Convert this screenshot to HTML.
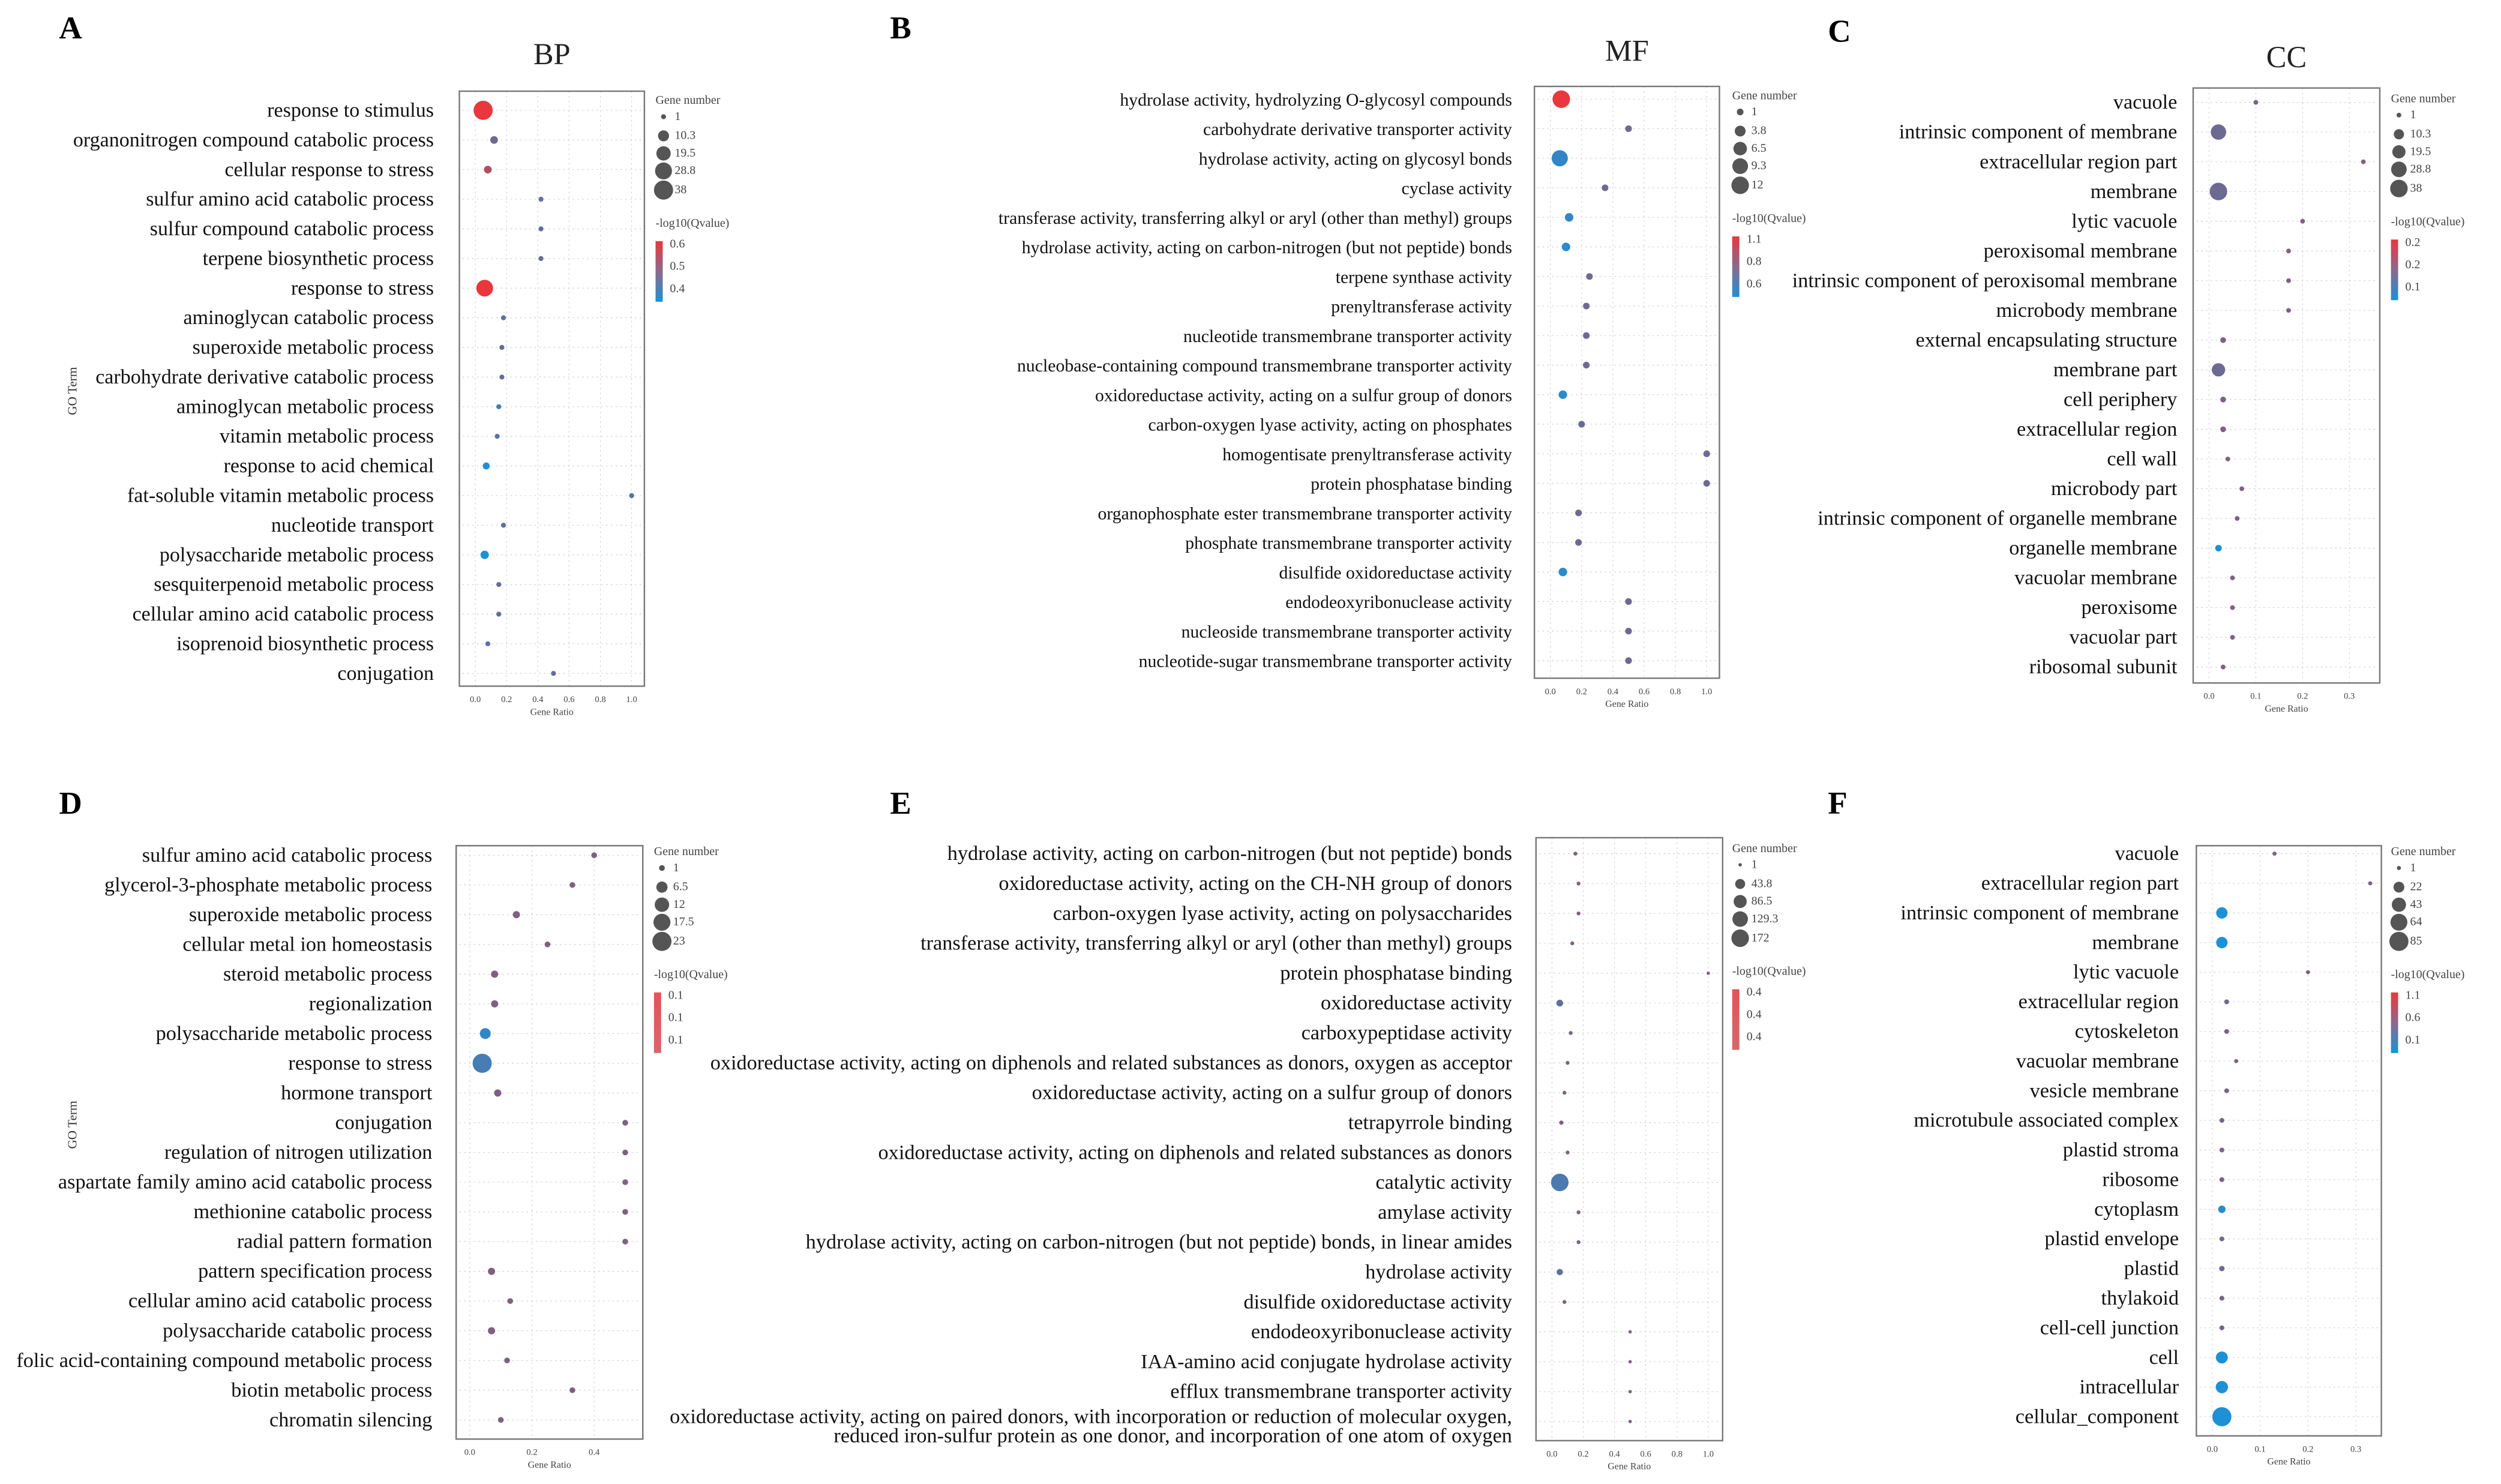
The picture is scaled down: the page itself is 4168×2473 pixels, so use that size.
<!DOCTYPE html>
<html><head><meta charset="utf-8"><style>
html,body{margin:0;padding:0;background:#fff;}
svg{display:block;font-family:"Liberation Serif",serif;}
</style></head><body>
<svg id="fig" xmlns="http://www.w3.org/2000/svg" width="4168" height="2473" viewBox="0 0 1568 930">
<defs>
<linearGradient id="cbar" x1="0" y1="0" x2="0" y2="1">
<stop offset="0" stop-color="#e8383d"/><stop offset="0.5" stop-color="#8a6a8c"/><stop offset="1" stop-color="#1e90d6"/></linearGradient>
<linearGradient id="cbarRed" x1="0" y1="0" x2="0" y2="1">
<stop offset="0" stop-color="#e0555a"/><stop offset="1" stop-color="#d9666b"/></linearGradient>
</defs>
<g id="root"></g>
</svg>
<script>
// ---- Panel A (BP) ----
const aTerms=["response to stimulus","organonitrogen compound catabolic process","cellular response to stress","sulfur amino acid catabolic process","sulfur compound catabolic process","terpene biosynthetic process","response to stress","aminoglycan catabolic process","superoxide metabolic process","carbohydrate derivative catabolic process","aminoglycan metabolic process","vitamin metabolic process","response to acid chemical","fat-soluble vitamin metabolic process","nucleotide transport","polysaccharide metabolic process","sesquiterpenoid metabolic process","cellular amino acid catabolic process","isoprenoid biosynthetic process","conjugation"];
const aRatio=[0.05,0.12,0.08,0.42,0.42,0.42,0.06,0.18,0.17,0.17,0.15,0.14,0.07,1.0,0.18,0.06,0.15,0.15,0.08,0.5];
const aCount=[38,4,4,1,1,1,28,1,1,1,1,1,3,1,1,5,1,1,1,1];
const aQ=[0.6,0.48,0.55,0.47,0.47,0.47,0.6,0.47,0.47,0.47,0.44,0.46,0.4,0.47,0.47,0.4,0.47,0.47,0.46,0.47];
const aTicks=["0.0","0.2","0.4","0.6","0.8","1.0"];
const aSizeLeg=["1","10.3","19.5","28.8","38"];
const aColLeg=["0.6","0.5","0.4"];
// ---- Panel B (MF) ----
const bTerms=["hydrolase activity, hydrolyzing O-glycosyl compounds","carbohydrate derivative transporter activity","hydrolase activity, acting on glycosyl bonds","cyclase activity","transferase activity, transferring alkyl or aryl (other than methyl) groups","hydrolase activity, acting on carbon-nitrogen (but not peptide) bonds","terpene synthase activity","prenyltransferase activity","nucleotide transmembrane transporter activity","nucleobase-containing compound transmembrane transporter activity","oxidoreductase activity, acting on a sulfur group of donors","carbon-oxygen lyase activity, acting on phosphates","homogentisate prenyltransferase activity","protein phosphatase binding","organophosphate ester transmembrane transporter activity","phosphate transmembrane transporter activity","disulfide oxidoreductase activity","endodeoxyribonuclease activity","nucleoside transmembrane transporter activity","nucleotide-sugar transmembrane transporter activity"];
const bRatio=[0.07,0.5,0.06,0.35,0.12,0.1,0.25,0.23,0.23,0.23,0.08,0.2,1.0,1.0,0.18,0.18,0.08,0.5,0.5,0.5];
const bCount=[12,1,10,1,2,2,1,1,1,1,2,1,1,1,1,1,2,1,1,1];
const bQ=[1.1,0.8,0.65,0.8,0.65,0.63,0.8,0.8,0.8,0.8,0.63,0.8,0.8,0.8,0.8,0.8,0.63,0.8,0.8,0.8];
const bTicks=["0.0","0.2","0.4","0.6","0.8","1.0"];
const bSizeLeg=["1","3.8","6.5","9.3","12"];
const bColLeg=["1.1","0.8","0.6"];
// ---- Panel C (CC) ----
const cTerms=["vacuole","intrinsic component of membrane","extracellular region part","membrane","lytic vacuole","peroxisomal membrane","intrinsic component of peroxisomal membrane","microbody membrane","external encapsulating structure","membrane part","cell periphery","extracellular region","cell wall","microbody part","intrinsic component of organelle membrane","organelle membrane","vacuolar membrane","peroxisome","vacuolar part","ribosomal subunit"];
const cRatio=[0.1,0.02,0.33,0.02,0.2,0.17,0.17,0.17,0.03,0.02,0.03,0.03,0.04,0.07,0.06,0.02,0.05,0.05,0.05,0.03];
const cCount=[1,28,1,38,1,1,1,1,2,20,2,2,1,1,1,3,1,1,1,1];
const cQ=[0.15,0.14,0.15,0.14,0.15,0.15,0.15,0.15,0.15,0.14,0.15,0.15,0.15,0.15,0.15,0.1,0.15,0.15,0.15,0.15];
const cTicks=["0.0","0.1","0.2","0.3"];
const cSizeLeg=["1","10.3","19.5","28.8","38"];
const cColLeg=["0.2","0.2","0.1"];
// ---- Panel D (BP) ----
const dTerms=["sulfur amino acid catabolic process","glycerol-3-phosphate metabolic process","superoxide metabolic process","cellular metal ion homeostasis","steroid metabolic process","regionalization","polysaccharide metabolic process","response to stress","hormone transport","conjugation","regulation of nitrogen utilization","aspartate family amino acid catabolic process","methionine catabolic process","radial pattern formation","pattern specification process","cellular amino acid catabolic process","polysaccharide catabolic process","folic acid-containing compound metabolic process","biotin metabolic process","chromatin silencing"];
const dRatio=[0.4,0.33,0.15,0.25,0.08,0.08,0.05,0.04,0.09,0.5,0.5,0.5,0.5,0.5,0.07,0.13,0.07,0.12,0.33,0.1];
const dCount=[1,1,2,1,2,2,6,23,2,1,1,1,1,1,2,1,2,1,1,1];
const dQ=[0.1,0.1,0.1,0.1,0.1,0.1,0.06,0.07,0.1,0.1,0.1,0.1,0.1,0.1,0.1,0.1,0.1,0.1,0.1,0.1];
const dTicks=["0.0","0.2","0.4"];
const dSizeLeg=["1","6.5","12","17.5","23"];
const dColLeg=["0.1","0.1","0.1"];
// ---- Panel E (MF) ----
const eTerms=["hydrolase activity, acting on carbon-nitrogen (but not peptide) bonds","oxidoreductase activity, acting on the CH-NH group of donors","carbon-oxygen lyase activity, acting on polysaccharides","transferase activity, transferring alkyl or aryl (other than methyl) groups","protein phosphatase binding","oxidoreductase activity","carboxypeptidase activity","oxidoreductase activity, acting on diphenols and related substances as donors, oxygen as acceptor","oxidoreductase activity, acting on a sulfur group of donors","tetrapyrrole binding","oxidoreductase activity, acting on diphenols and related substances as donors","catalytic activity","amylase activity","hydrolase activity, acting on carbon-nitrogen (but not peptide) bonds, in linear amides","hydrolase activity","disulfide oxidoreductase activity","endodeoxyribonuclease activity","IAA-amino acid conjugate hydrolase activity","efflux transmembrane transporter activity","oxidoreductase activity, acting on paired donors, with incorporation or reduction of molecular oxygen,|reduced iron-sulfur protein as one donor, and incorporation of one atom of oxygen"];
const eRatio=[0.15,0.17,0.17,0.13,1.0,0.05,0.12,0.1,0.08,0.06,0.1,0.05,0.17,0.17,0.05,0.08,0.5,0.5,0.5,0.5];
const eCount=[2,2,2,2,1,15,2,2,2,3,2,172,2,2,12,2,1,1,1,1];
const eQ=[0.4,0.4,0.4,0.4,0.4,0.35,0.4,0.4,0.4,0.4,0.4,0.32,0.4,0.4,0.35,0.4,0.4,0.4,0.4,0.4];
const eTicks=["0.0","0.2","0.4","0.6","0.8","1.0"];
const eSizeLeg=["1","43.8","86.5","129.3","172"];
const eColLeg=["0.4","0.4","0.4"];
// ---- Panel F (CC) ----
const fTerms=["vacuole","extracellular region part","intrinsic component of membrane","membrane","lytic vacuole","extracellular region","cytoskeleton","vacuolar membrane","vesicle membrane","microtubule associated complex","plastid stroma","ribosome","cytoplasm","plastid envelope","plastid","thylakoid","cell-cell junction","cell","intracellular","cellular_component"];
const fRatio=[0.13,0.33,0.02,0.02,0.2,0.03,0.03,0.05,0.03,0.02,0.02,0.02,0.02,0.02,0.02,0.02,0.02,0.02,0.02,0.02];
const fCount=[1,1,25,25,1,2,2,1,2,2,2,2,8,2,3,2,2,28,30,85];
const fQ=[0.6,0.6,0.1,0.1,0.6,0.55,0.55,0.6,0.55,0.55,0.55,0.55,0.15,0.55,0.5,0.55,0.55,0.1,0.1,0.1];
const fTicks=["0.0","0.1","0.2","0.3"];
const fSizeLeg=["1","22","43","64","85"];
const fColLeg=["1.1","0.6","0.1"];

const NS="http://www.w3.org/2000/svg";
const root=document.getElementById('root');
function mk(tag,attrs,parent){const e=document.createElementNS(NS,tag);for(const k in attrs)e.setAttribute(k,attrs[k]);(parent||root).appendChild(e);return e;}
function lerpCol(t){t=Math.max(0,Math.min(1,t));const b=[30,144,214],m=[128,96,130],r=[232,56,61];let c;
 if(t<0.5){const u=t/0.5;c=b.map((v,i)=>v+(m[i]-v)*u);}else{const u=(t-0.5)/0.5;c=m.map((v,i)=>v+(r[i]-v)*u);}
 return `rgb(${c.map(Math.round).join(',')})`;}

function panel(p){
 const g=mk('g',{});
 
 
 const L=mk('text',{x:p.letterX,y:p.letterY,'font-size':20,'font-weight':'bold',fill:'#000'},g);L.textContent=p.id;
 
 
 if(p.title){const t=mk('text',{x:(p.box[0]+p.box[2])/2,y:p.titleY,'font-size':19,'text-anchor':'middle',fill:'#222'},g);t.textContent=p.title;
  
  }
 const [x0,y0,x1,y1]=p.box;
 const n=p.terms.length;
 const rowY=i=>p.rowTop+(p.rowBot-p.rowTop)*i/(n-1);
 const xS=v=>p.ax0+v*p.ppu;
 p.ticks.forEach(tk=>{const x=xS(parseFloat(tk));
  const gl=mk('line',{x1:x,x2:x,y1:y0,y2:y1,stroke:'#ccc','stroke-width':0.4,'stroke-dasharray':'1 2'},g);
  
  
  const tl=mk('text',{x:x,y:y1+10,'font-size':5.5,'text-anchor':'middle',fill:'#444'},g);tl.textContent=tk;
  
  });
 const xt=mk('text',{x:(x0+x1)/2,y:y1+18,'font-size':6,'text-anchor':'middle',fill:'#444'},g);xt.textContent='Gene Ratio';
 
 
 if(p.goterm){const yt=mk('text',{x:0,y:0,'font-size':8,'text-anchor':'middle',fill:'#333',transform:`translate(${p.goterm[0]},${p.goterm[1]}) rotate(-90)`},g);yt.textContent='GO Term';
  
  }
 const fr=mk('rect',{x:x0,y:y0,width:x1-x0,height:y1-y0,fill:'none',stroke:'#777','stroke-width':0.9},g);
 
 
 const maxC=parseFloat(p.sizeLeg[p.sizeLeg.length-1]);
 const rad=c=>0.7+(p.rMax-0.7)*Math.sqrt(c/maxC);
 p.terms.forEach((term,i)=>{const y=rowY(i);
  const hl=mk('line',{x1:x0+2,x2:x1-2,y1:y,y2:y,stroke:'#ccc','stroke-width':0.4,'stroke-dasharray':'1 2'},g);
  
  
  const parts=term.split('|');
  const lb=mk('text',{x:p.labX,y:y+4-(parts.length>1?3:0),'font-size':p.fs,'text-anchor':'end',fill:'#111'},g);
  
  
  parts.forEach((pt,k)=>{const ts=mk('tspan',{x:p.labX,dy:k?12:0},lb);ts.textContent=pt;});
  const t=(p.q[i]-p.qLo)/(p.qHi-p.qLo);
  const c=mk('circle',{cx:xS(p.ratio[i]),cy:y,r:rad(p.count[i]),fill:lerpCol(t)},g);
  
  
 });
 const lx=p.legX, ly=p.legY;
 const gn=mk('text',{x:lx,y:ly,'font-size':7.5,fill:'#444'},g);gn.textContent='Gene number';
 
 
 const ys=[ly+10,ly+22,ly+33,ly+44,ly+56];
 p.sizeLeg.forEach((s,i)=>{const r=rad(parseFloat(s));
  const c=mk('circle',{cx:lx+5,cy:ys[i]-2,r:r,fill:'#555'},g);
  
  
  const t=mk('text',{x:lx+12,y:ys[i],'font-size':7.5,fill:'#444'},g);t.textContent=s;
  
  });
 const qt=mk('text',{x:lx,y:ly+77,'font-size':7.5,fill:'#444'},g);qt.textContent='-log10(Qvalue)';
 
 
 const cb=mk('rect',{x:lx,y:ly+86,width:4.5,height:38,fill:p.redBar?'url(#cbarRed)':'url(#cbar)'},g);
 
 
 p.colLeg.forEach((s,i)=>{const t=mk('text',{x:lx+9,y:ly+90+i*14,'font-size':7.5,fill:'#444'},g);t.textContent=s;
  
  });
}

panel({id:'A',title:'BP',titleY:40,letterX:37,letterY:24,box:[288,57,404,430],labX:272,fs:12.8,rowTop:69,rowBot:422,ax0:298,ppu:98,ticks:aTicks,terms:aTerms,ratio:aRatio,count:aCount,q:aQ,qLo:0.4,qHi:0.6,rMax:6,sizeLeg:aSizeLeg,colLeg:aColLeg,legX:411,legY:65,goterm:[48,245]});
panel({id:'B',title:'MF',titleY:38,letterX:558,letterY:24,box:[962,54,1078,425],labX:948,fs:11.2,rowTop:62,rowBot:414,ax0:972,ppu:98,ticks:bTicks,terms:bTerms,ratio:bRatio,count:bCount,q:bQ,qLo:0.6,qHi:1.1,rMax:5.5,sizeLeg:bSizeLeg,colLeg:bColLeg,legX:1086,legY:62});
panel({id:'C',title:'CC',titleY:42,letterX:1146,letterY:26,box:[1375,55,1492,428],labX:1365,fs:12.9,rowTop:64,rowBot:418,ax0:1385,ppu:293,ticks:cTicks,terms:cTerms,ratio:cRatio,count:cCount,q:cQ,qLo:0.1,qHi:0.2,rMax:5.5,sizeLeg:cSizeLeg,colLeg:cColLeg,legX:1499,legY:64});
panel({id:'D',title:null,letterX:37,letterY:510,box:[286,530,403,902],labX:271,fs:12.9,rowTop:536,rowBot:890,ax0:294.5,ppu:195,ticks:dTicks,terms:dTerms,ratio:dRatio,count:dCount,q:dQ,qLo:0.05,qHi:0.15,rMax:6,sizeLeg:dSizeLeg,colLeg:dColLeg,legX:410,legY:536,goterm:[48,705],redBar:true});
panel({id:'E',title:null,letterX:558,letterY:510,box:[963,525,1080,903],labX:948,fs:12.9,rowTop:535,rowBot:891,ax0:973,ppu:98,ticks:eTicks,terms:eTerms,ratio:eRatio,count:eCount,q:eQ,qLo:0.25,qHi:0.55,rMax:5.5,sizeLeg:eSizeLeg,colLeg:eColLeg,legX:1086,legY:534,redBar:true});
panel({id:'F',title:null,letterX:1146,letterY:510,box:[1377,530,1493,900],labX:1366,fs:12.9,rowTop:535,rowBot:888,ax0:1387,ppu:300,ticks:fTicks,terms:fTerms,ratio:fRatio,count:fCount,q:fQ,qLo:0.1,qHi:1.1,rMax:6,sizeLeg:fSizeLeg,colLeg:fColLeg,legX:1499,legY:536});
</script>
</body></html>
